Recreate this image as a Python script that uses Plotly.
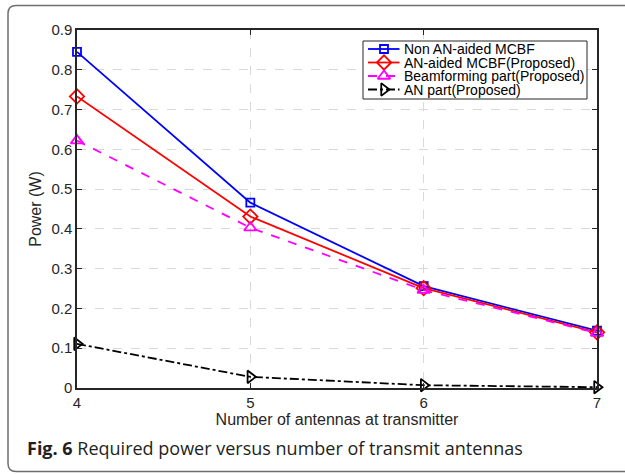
import plotly.graph_objects as go

antennas = [4, 5, 6, 7]
non_an_mcbf = [0.845, 0.466, 0.256, 0.144]
an_mcbf = [0.733, 0.431, 0.251, 0.140]
beamforming = [0.622, 0.403, 0.246, 0.138]
an_part = [0.111, 0.028, 0.007, 0.002]

series_names = ["Non AN-aided MCBF", "AN-aided MCBF(Proposed)",
                "Beamforming part(Proposed)", "AN part(Proposed)"]
y_ticks = [0, 0.1, 0.2, 0.3, 0.4, 0.5, 0.6, 0.7, 0.8, 0.9]
y_tick_text = ["0", "0.1", "0.2", "0.3", "0.4", "0.5", "0.6", "0.7", "0.8", "0.9"]

W, H = 625, 474
L, R, T, B = 77, 28, 30, 86
pw, ph = W - L - R, H - T - B
X_RANGE = [4, 7]
Y_RANGE = [0, 0.9]

def px(xp):
    return (xp - L) / pw

def py(yp):
    return (H - B - yp) / ph

def dx(xp):
    return X_RANGE[0] + px(xp) * (X_RANGE[1] - X_RANGE[0])

def dy(yp):
    return Y_RANGE[0] + py(yp) * (Y_RANGE[1] - Y_RANGE[0])

fig = go.Figure()
styles = [
    dict(color="#0000ff", dash="solid", symbol="square-open", size=8),
    dict(color="#ff0000", dash="solid", symbol="diamond-open", size=11),
    dict(color="#ff00ff", dash="dash", symbol="triangle-up-open", size=11),
    dict(color="#000000", dash="dashdot", symbol="triangle-right-open", size=11),
]
all_series = [non_an_mcbf, an_mcbf, beamforming, an_part]
for name, ys, st in zip(series_names, all_series, styles):
    fig.add_trace(go.Scatter(
        x=antennas, y=ys, name=name, mode="lines+markers",
        line=dict(color=st["color"], width=1.8, dash=st["dash"]),
        marker=dict(symbol=st["symbol"], size=st["size"], color=st["color"],
                    line=dict(width=1.8, color=st["color"])),
        cliponaxis=False, showlegend=False,
    ))

# ---- legend (drawn on a hidden overlay axis in pixel units) ----
leg_x0, leg_x1, leg_y0, leg_y1 = 363, 587, 41, 99
leg_rows = [49, 62.5, 76, 89.5]
fig.add_shape(type="rect", xref="x", yref="y",
              x0=dx(leg_x0), x1=dx(leg_x1), y0=dy(leg_y0), y1=dy(leg_y1),
              line=dict(color="#262626", width=1), fillcolor="white", layer="between")
for name, st, ry in zip(series_names, styles, leg_rows):
    fig.add_trace(go.Scatter(
        x=[368, 399.5], y=[ry, ry], xaxis="x2", yaxis="y2", mode="lines",
        line=dict(color=st["color"], width=1.8, dash=st["dash"]),
        showlegend=False, hoverinfo="skip", cliponaxis=False,
    ))
    fig.add_trace(go.Scatter(
        x=[384], y=[ry], xaxis="x2", yaxis="y2", mode="markers",
        marker=dict(symbol=st["symbol"], size=st["size"], color=st["color"],
                    line=dict(width=1.8, color=st["color"])),
        showlegend=False, hoverinfo="skip", cliponaxis=False,
    ))
    fig.add_annotation(x=px(402), y=py(ry), xref="paper", yref="paper",
                       xanchor="left", yanchor="middle",
                       text=name, showarrow=False,
                       font=dict(family="Liberation Sans, Arial, sans-serif", size=14, color="#000000"))

tick_font = dict(family="Liberation Sans, Arial, sans-serif", size=15, color="#262626")
title_font = dict(family="Liberation Sans, Arial, sans-serif", size=16, color="#262626")
axis_common = dict(
    showgrid=True, gridcolor="#d9d9d9", griddash="dash", gridwidth=1,
    showline=True, linecolor="#262626", linewidth=1.5, mirror="ticks",
    ticks="inside", ticklen=5, tickcolor="#262626", zeroline=False,
    tickfont=tick_font,
)

# outer rounded frame
r = 8
x0, y0, x1, y1 = 8, 5.5, 640, 471.5
path = (f"M {px(x0 + r)},{py(y0)} L {px(x1)},{py(y0)} L {px(x1)},{py(y1)} "
        f"L {px(x0 + r)},{py(y1)} Q {px(x0)},{py(y1)} {px(x0)},{py(y1 - r)} "
        f"L {px(x0)},{py(y0 + r)} Q {px(x0)},{py(y0)} {px(x0 + r)},{py(y0)}")
fig.add_shape(type="path", path=path, xref="paper", yref="paper",
              line=dict(color="#6e6e6e", width=1.5), layer="below")

fig.add_annotation(
    x=px(25), y=py(448), xref="paper", yref="paper", xanchor="left", yanchor="middle",
    text="<b>Fig. 6</b> Required power versus number of transmit antennas",
    showarrow=False, font=dict(family="Open Sans, Noto Sans, sans-serif", size=18, color="#231f20"),
)

fig.update_layout(
    width=W, height=H, margin=dict(l=L, r=R, t=T, b=B),
    paper_bgcolor="white", plot_bgcolor="white",
    xaxis=dict(range=X_RANGE, tickvals=antennas, ticktext=[str(a) for a in antennas],
               title=dict(text="Number of antennas at transmitter", font=title_font, standoff=2),
               **axis_common),
    yaxis=dict(range=Y_RANGE, tickvals=y_ticks, ticktext=y_tick_text,
               title=dict(text="Power (W)", font=title_font, standoff=6),
               **axis_common),
    xaxis2=dict(overlaying="x", range=[L, W - R], visible=False, fixedrange=True),
    yaxis2=dict(overlaying="y", range=[H - B, T], visible=False, fixedrange=True),
    showlegend=False,
)

fig.write_html("out.html")
